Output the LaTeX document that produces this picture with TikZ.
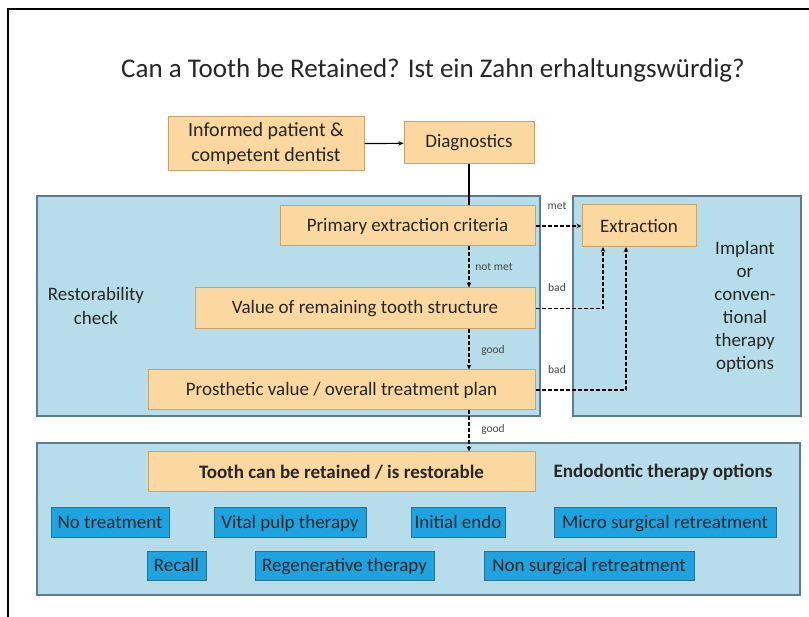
\documentclass[tikz,border=0pt]{standalone}
\usepackage{fontspec}
\setmainfont{Carlito}
\usetikzlibrary{arrows.meta}
\definecolor{boxfill}{HTML}{FBD89F}
\definecolor{boxline}{HTML}{C9A46A}
\definecolor{panelfill}{HTML}{B6DDE9}
\definecolor{panelline}{HTML}{5B7D93}
\definecolor{optfill}{HTML}{1CA3E0}
\definecolor{optline}{HTML}{2E6E8E}
\definecolor{textdark}{HTML}{262626}
\tikzset{
  flow box/.style={
    draw=boxline,
    fill=boxfill,
    line width=1pt,
    align=center,
    inner sep=0pt,
    text=textdark,
    font=\fontsize{19}{24}\selectfont,
  },
  option box/.style={
    draw=optline,
    fill=optfill,
    line width=0.8pt,
    inner sep=0pt,
    minimum height=30,
    text height=14pt,
    text depth=2pt,
    text=textdark,
    font=\fontsize{19}{23}\selectfont,
  },
  panel/.style={
    draw=panelline,
    fill=panelfill,
    line width=1.4pt,
  },
  edge label/.style={
    text=textdark!85,
    font=\fontsize{11.5}{13}\selectfont,
  },
  dash arrow/.style={
    line width=1.2pt,
    dash pattern=on 4pt off 2pt,
    -{Stealth[length=5pt,width=4.5pt]},
  },
}

\begin{document}
\begin{tikzpicture}[x=1pt, y=-1pt]
      \useasboundingbox (0,0) rectangle (809,617);
      \draw[line width=2pt] (8,617) -- (8,9) -- (809,9);

      \node[text=textdark, font=\fontsize{27}{32}\selectfont] (title) at (433,70)
        {Can a Tooth be Retained? Ist ein Zahn erhaltungswürdig?};

      \draw[panel] (37,196) rectangle (540,416);
      \draw[panel] (573,196) rectangle (801,416);
      \draw[panel] (37,443) rectangle (800,595);

      \node[flow box, minimum width=196, minimum height=54, font=\fontsize{20}{25}\selectfont] (inform) at (266,144)
        {Informed patient \&\\competent dentist};
      \node[flow box, minimum width=130, minimum height=42] (diag) at (469,143) {Diagnostics};
      \node[flow box, minimum width=255, minimum height=40] (primary) at (407.5,226) {Primary extraction criteria};
      \node[flow box, minimum width=114, minimum height=42] (extract) at (639,226) {Extraction};
      \node[flow box, minimum width=340, minimum height=41] (value) at (365,308.5) {Value of remaining tooth structure};
      \node[flow box, minimum width=387, minimum height=40] (prosth) at (341.5,390) {Prosthetic value / overall treatment plan};
      \node[flow box, minimum width=387, minimum height=40] (tooth) at (341.5,472)
        {\bfseries Tooth can be retained / is restorable};

      \node[align=center, text=textdark, font=\fontsize{19}{24}\selectfont] (restore) at (96,306)
        {Restorability\\check};
      \node[align=center, text=textdark, font=\fontsize{19}{23}\selectfont] (implant) at (745,307)
        {Implant\\or\\conven-\\tional\\therapy\\options};
      \node[text=textdark, font=\bfseries\fontsize{19}{23}\selectfont] (endo) at (663,472)
        {Endodontic therapy options};

      \node[option box, minimum width=118] (notreat) at (110,522) {No treatment};
      \node[option box, minimum width=152] (vital) at (290,522) {Vital pulp therapy};
      \node[option box, minimum width=94] (initial) at (458,522) {Initial endo};
      \node[option box, minimum width=222] (micro) at (665,522) {Micro surgical retreatment};
      \node[option box, minimum width=59, minimum height=29] (recall) at (176.5,565.5) {Recall};
      \node[option box, minimum width=179, minimum height=29] (regen) at (344.5,565.5) {Regenerative therapy};
      \node[option box, minimum width=210, minimum height=29] (nonsurg) at (589,565.5) {Non surgical retreatment};

      \coordinate (bad1) at (603,247);
      \coordinate (bad2) at (626,247);

      \draw[line width=1.2pt, -{Stealth[length=5pt,width=4.5pt]}] (inform) -- (diag);
      \draw[line width=1.2pt] (diag.south) -- (diag.south |- primary.north);
      \draw[dash arrow] (primary) -- (extract);
      \draw[dash arrow] (primary.south -| diag.south) -- (value.north -| diag.south);
      \draw[dash arrow] (value.south -| diag.south) -- (prosth.north -| diag.south);
      \draw[dash arrow] (prosth.south -| diag.south) -- (tooth.north -| diag.south);
      \draw[dash arrow] (value.east) -| (bad1);
      \draw[dash arrow] (prosth.east) -| (bad2);

      \node[edge label] (lmet) at (557,206) {met};
      \node[edge label] (lnotmet) at (494,267) {not met};
      \node[edge label] (lbad1) at (557,288) {bad};
      \node[edge label] (lgood1) at (493,350) {good};
      \node[edge label] (lbad2) at (557,370) {bad};
      \node[edge label] (lgood2) at (493,429) {good};
    \end{tikzpicture}
\end{document}
